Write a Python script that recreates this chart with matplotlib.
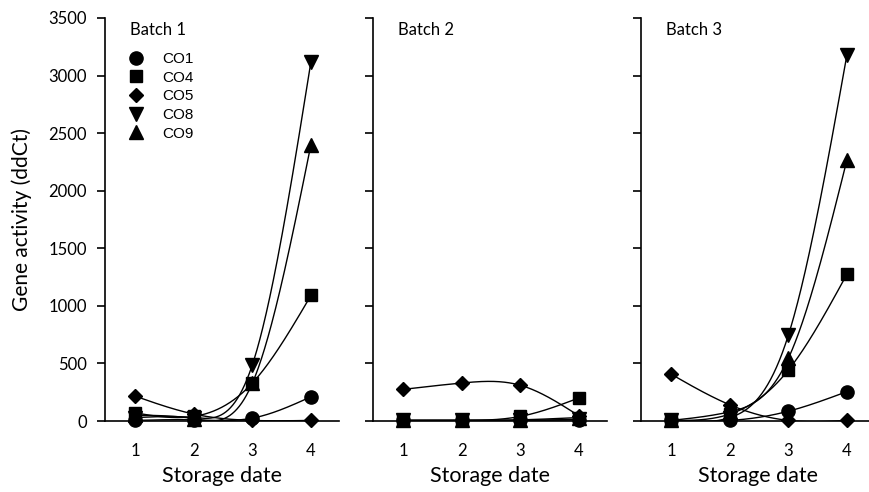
import numpy as np
import matplotlib
matplotlib.use('Agg')
import matplotlib.pyplot as plt
from matplotlib.lines import Line2D

# ---- data ----
dates = [1, 2, 3, 4]
genes = ['CO1', 'CO4', 'CO5', 'CO8', 'CO9']
gene_markers = ['o', 's', 'D', 'v', '^']
batch_names = ['Batch 1', 'Batch 2', 'Batch 3']

b1_CO1 = [5, 10, 25, 210]
b1_CO4 = [70, 40, 330, 1090]
b1_CO5 = [215, 60, 5, 5]
b1_CO8 = [30, 30, 490, 3120]
b1_CO9 = [50, 20, 330, 2400]

b2_CO1 = [5, 5, 5, 10]
b2_CO4 = [5, 5, 40, 200]
b2_CO5 = [275, 330, 310, 45]
b2_CO8 = [5, 5, 5, 15]
b2_CO9 = [5, 5, 10, 30]

b3_CO1 = [5, 5, 85, 255]
b3_CO4 = [5, 60, 443, 1275]
b3_CO5 = [405, 140, 5, 5]
b3_CO8 = [5, 30, 747, 3180]
b3_CO9 = [5, 80, 545, 2267]

batches = [
    [b1_CO1, b1_CO4, b1_CO5, b1_CO8, b1_CO9],
    [b2_CO1, b2_CO4, b2_CO5, b2_CO8, b2_CO9],
    [b3_CO1, b3_CO4, b3_CO5, b3_CO8, b3_CO9],
]

y_ticks = [0, 500, 1000, 1500, 2000, 2500, 3000, 3500]


def natural_spline(x, y, xs):
    x = np.asarray(x, float)
    y = np.asarray(y, float)
    n = len(x)
    h = np.diff(x)
    A = np.zeros((n, n))
    r = np.zeros(n)
    A[0, 0] = 1
    A[-1, -1] = 1
    for i in range(1, n - 1):
        A[i, i - 1] = h[i - 1]
        A[i, i] = 2 * (h[i - 1] + h[i])
        A[i, i + 1] = h[i]
        r[i] = 6 * ((y[i + 1] - y[i]) / h[i] - (y[i] - y[i - 1]) / h[i - 1])
    M = np.linalg.solve(A, r)
    out = np.empty_like(xs)
    for k, xv in enumerate(xs):
        i = min(np.searchsorted(x, xv, side='right') - 1, n - 2)
        i = max(i, 0)
        t1 = x[i + 1] - xv
        t0 = xv - x[i]
        hi = h[i]
        out[k] = (M[i] * t1 ** 3 / (6 * hi) + M[i + 1] * t0 ** 3 / (6 * hi)
                  + (y[i] / hi - M[i] * hi / 6) * t1
                  + (y[i + 1] / hi - M[i + 1] * hi / 6) * t0)
    return out


W, H = 869, 492
fig = plt.figure(figsize=(W / 100, H / 100), dpi=100)

tick_font = 'Lato'
lefts_px = [105, 373, 641]
ax_w_px = 234
ax_bottom_px = 421
ax_top_px = 18
msizes = {'o': 9.5, 's': 8.5, 'D': 7.5, 'v': 10.5, '^': 10.0}

for b, (left_px, series) in enumerate(zip(lefts_px, batches)):
    ax = fig.add_axes([left_px / W, (H - ax_bottom_px) / H,
                       ax_w_px / W, (ax_bottom_px - ax_top_px) / H])
    xs = np.linspace(dates[0], dates[-1], 300)
    for vals, mk in zip(series, gene_markers):
        ys = natural_spline(dates, vals, xs)
        ax.plot(xs, ys, color='black', lw=1.0, clip_on=True, zorder=2)
        ax.plot(dates, vals, linestyle='none', marker=mk, color='black',
                markersize=msizes[mk], clip_on=False, zorder=3)
    ax.set_xlim(0.48, 4.48)
    ax.set_ylim(0, 3500)
    ax.set_yticks(y_ticks)
    ax.set_xticks(dates)
    ax.spines['top'].set_visible(False)
    ax.spines['right'].set_visible(False)
    for s in ('left', 'bottom'):
        ax.spines[s].set_linewidth(1.2)
    ax.tick_params(axis='y', direction='out', length=6, width=1.2, pad=7,
                   labelsize=12)
    ax.tick_params(axis='x', length=0, pad=16, labelsize=12)
    for lab in ax.get_xticklabels() + ax.get_yticklabels():
        lab.set_fontfamily(tick_font)
    if b > 0:
        ax.set_yticklabels([])
    else:
        ax.set_ylabel('Gene activity (ddCt)', fontsize=15, fontfamily=tick_font,
                      labelpad=12)
    ax.set_xlabel('Storage date', fontsize=15.5, fontfamily=tick_font, labelpad=5)
    ax.text(0.105, 0.97, batch_names[b], transform=ax.transAxes,
            fontsize=12, fontfamily=tick_font, va='center', ha='left')
    if b == 0:
        handles = [Line2D([], [], linestyle='none', marker=mk, color='black',
                          markersize=msizes[mk]) for mk in gene_markers]
        leg = ax.legend(handles, genes, loc='upper left',
                        bbox_to_anchor=(0.1, 0.915), frameon=False,
                        handlelength=1.0, handletextpad=1.2, labelspacing=0.3,
                        borderaxespad=0, borderpad=0,
                        prop={'family': 'Liberation Sans', 'size': 11})

fig.savefig('out.png', dpi=100)
